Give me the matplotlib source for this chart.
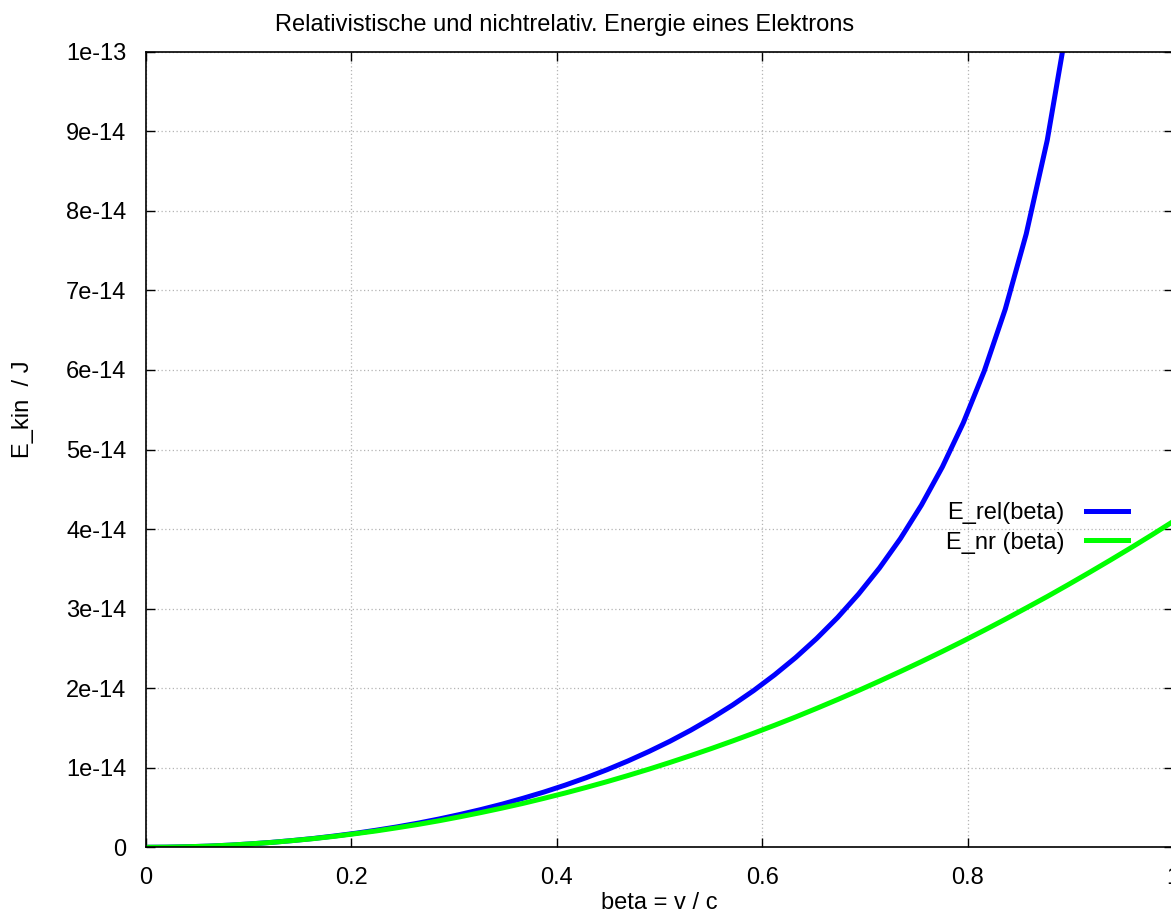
import matplotlib
matplotlib.use('Agg')
from matplotlib import pyplot as plt

plt.rcParams['font.family'] = ['Liberation Sans', 'DejaVu Sans']

# beta-Stuetzstellen (50 samples auf [0,1])
beta = [0.0, 0.0204, 0.0408, 0.0612, 0.0816, 0.1020, 0.1224, 0.1429, 0.1633, 0.1837,
        0.2041, 0.2245, 0.2449, 0.2653, 0.2857, 0.3061, 0.3265, 0.3469, 0.3673, 0.3878,
        0.4082, 0.4286, 0.4490, 0.4694, 0.4898, 0.5102, 0.5306, 0.5510, 0.5714, 0.5918,
        0.6122, 0.6327, 0.6531, 0.6735, 0.6939, 0.7143, 0.7347, 0.7551, 0.7755, 0.7959,
        0.8163, 0.8367, 0.8571, 0.8776, 0.8980, 0.9184, 0.9388, 0.9592, 0.9796, 1.0]

# Energie in Einheiten von 1e-14 J
e_rel = [0.0, 0.002, 0.007, 0.015, 0.027, 0.043, 0.062, 0.085, 0.111, 0.142,
         0.176, 0.215, 0.257, 0.304, 0.356, 0.413, 0.475, 0.542, 0.616, 0.695,
         0.781, 0.874, 0.975, 1.085, 1.204, 1.332, 1.472, 1.624, 1.789, 1.970,
         2.168, 2.385, 2.624, 2.888, 3.183, 3.511, 3.881, 4.301, 4.781, 5.336,
         5.987, 6.763, 7.708, 8.888, 10.42]
e_nr = [0.0, 0.002, 0.007, 0.015, 0.027, 0.043, 0.061, 0.084, 0.109, 0.138,
        0.171, 0.206, 0.246, 0.288, 0.334, 0.384, 0.437, 0.493, 0.552, 0.616,
        0.682, 0.752, 0.825, 0.902, 0.982, 1.066, 1.153, 1.243, 1.337, 1.434,
        1.534, 1.638, 1.746, 1.857, 1.971, 2.089, 2.210, 2.334, 2.462, 2.593,
        2.728, 2.866, 3.008, 3.152, 3.301, 3.453, 3.608, 3.766, 3.928, 4.094]

yticks = [i * 1e-14 for i in range(11)]
ylabels = ['0', '1e-14', '2e-14', '3e-14', '4e-14', '5e-14', '6e-14', '7e-14', '8e-14', '9e-14', '1e-13']
xticks = [0, 0.2, 0.4, 0.6, 0.8, 1.0]
xlabels = ['0', '0.2', '0.4', '0.6', '0.8', '1']

W, H = 1171, 916
fig = plt.figure(figsize=(W / 100, H / 100), dpi=100)
ax = fig.add_axes([145.7 / W, 1 - 847.3 / H, (1173 - 145.7) / W, (847.3 - 51.7) / H])

ax.plot(beta[:len(e_rel)], [v * 1e-14 for v in e_rel], color='#0000ff', lw=3.6, label='E_rel(beta)')
ax.plot(beta, [v * 1e-14 for v in e_nr], color='#00ff00', lw=3.6, label='E_nr (beta)')

ax.set_xlim(0, 1)
ax.set_ylim(0, 1e-13)
ax.set_xticks(xticks)
ax.set_xticklabels(xlabels)
ax.set_yticks(yticks)
ax.set_yticklabels(ylabels)
ax.tick_params(direction='in', length=6.5, width=1, top=True, right=True,
               labelsize=17, pad=14)
for s in ax.spines.values():
    s.set_linewidth(1.2)
ax.grid(True, color='#b4b4b4', linestyle=(0, (1, 2)), linewidth=0.9)
ax.set_axisbelow(True)

ax.legend(loc='upper right', bbox_to_anchor=(1128 / W, 1 - 502 / H), bbox_transform=fig.transFigure,
          frameon=False, markerfirst=False, handlelength=1.8, handletextpad=0.9,
          borderpad=0, borderaxespad=0, labelspacing=0.32, fontsize=17)

# Titel und Achsenbeschriftung
fig.text(565 / W, 1 - 25 / H, 'Relativistische und nichtrelativ. Energie eines Elektrons',
         ha='center', va='center', fontsize=17)
fig.text(659 / W, 1 - 903 / H, 'beta = v / c', ha='center', va='center', fontsize=17)
fig.text(23 / W, 1 - 409 / H, 'E_kin  / J', ha='center', va='center', rotation=90, fontsize=17)

fig.savefig('out.png', dpi=100)
